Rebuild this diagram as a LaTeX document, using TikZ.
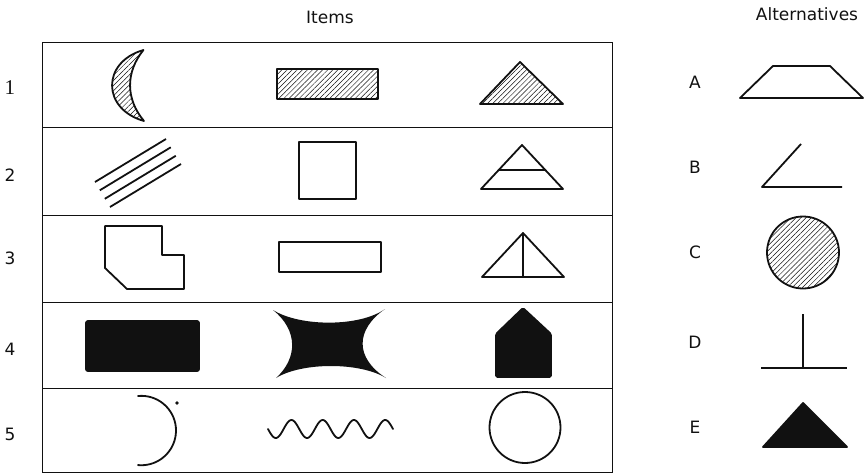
\documentclass[tikz,border=0pt]{standalone}
\usepackage{fontspec}
\setmainfont{DejaVu Sans}
\newfontfamily\numfont{Liberation Serif}
\usetikzlibrary{patterns.meta}
\definecolor{Ink}{HTML}{111111}
\tikzset{fig/.style={Ink,line width=1.8pt,line join=round},
  hatch/.style={fig,pattern={Lines[angle=45,distance=3.6pt,line width=.5pt]},pattern color=Ink},
  solid fill/.style={fig,fill=Ink},
  lbl/.style={font=\fontsize{17}{20}\selectfont,text=Ink,inner sep=0pt}}
\begin{document}
\begin{tikzpicture}[x=1pt,y=-1pt]
\useasboundingbox (0,0) rectangle (868,474);
% headings
\node[lbl,anchor=base] (items) at (330,23){Items}; \node[lbl,anchor=base] (alts) at (807,20.5){Alternatives};
% table of items
\draw[Ink,line width=.9pt] (42,42) rectangle (612,472); \foreach \y in {127,215,302,388} \draw[Ink,line width=.9pt] (42,\y)--(612,\y);
\node[lbl,font=\fontsize{21}{24}\selectfont\numfont] (r1) at (10,88){1};
\foreach \n/\y in {2/175,3/258,4/349,5/434} \node[lbl] (r\n) at (10,\y){\n};
\foreach \l/\y in {A/82.5,B/167.5,C/252.5,D/342.5,E/427.5} \node[lbl] (alt\l) at (695,\y){\l};
% row 1
\draw[hatch] (143.5,50) .. controls (101.5,62) and (101.5,109) .. (144,121) .. controls (125.5,99) and (125.5,72) .. cycle;
\draw[hatch] (277,69) rectangle (378,99); \draw[hatch] (480,104)--(520,62)--(563,104)--cycle;
% row 2
\foreach \dx/\dy in {0/0,4.8/8.3,9.8/16.8,15/25} \draw[fig] (95+\dx,182+\dy)--(166+\dx,139+\dy);
\draw[fig] (299,142) rectangle (356,199); \draw[fig] (481,189)--(522,145)--(563,189)--cycle (498.7,170)--(545.3,170);
% row 3
\draw[fig] (105,226)--(162,226)--(162,255)--(184,255)--(184,289)--(127,289)--(105,268)--cycle;
\draw[fig] (279,242) rectangle (381,272); \draw[fig] (482,277)--(523,233)--(564,277)--cycle (523,233)--(523,277);
% row 4
\draw[solid fill,rounded corners=2pt] (86,321) rectangle (199,371);
\fill[Ink] (273,310) .. controls (300,327) and (360,327) .. (385,309) .. controls (355,330) and (355,358) .. (386,378) .. controls (360,362) and (302,362) .. (276,378) .. controls (298,358) and (298,330) .. cycle;
\draw[solid fill,rounded corners=1.5pt] (496,377)--(496,334)--(523,308)--(551,334)--(551,377)--cycle;
% row 5
\draw[fig,line cap=round] (138,396) arc[start angle=-95.5,end angle=95.5,radius=34.7]; \fill[Ink] (177,403) circle (1.8);
\draw[fig,line cap=round] plot[domain=0:1440,samples=120,smooth] ({268+\x/11.52},{429+9*sin(\x)});
\draw[fig] (525,427.5) circle (35.5);
% alternatives
\draw[fig] (740,98)--(773,66)--(830,66)--(863,98)--cycle;
\draw[fig] (801,144)--(762,187)--(842,187);
\draw[hatch] (803,252.5) circle (36);
\draw[fig] (803,314)--(803,368) (761,368)--(847,368);
\draw[solid fill] (803,403)--(763,447)--(847,447)--cycle;
\end{tikzpicture}
\end{document}
